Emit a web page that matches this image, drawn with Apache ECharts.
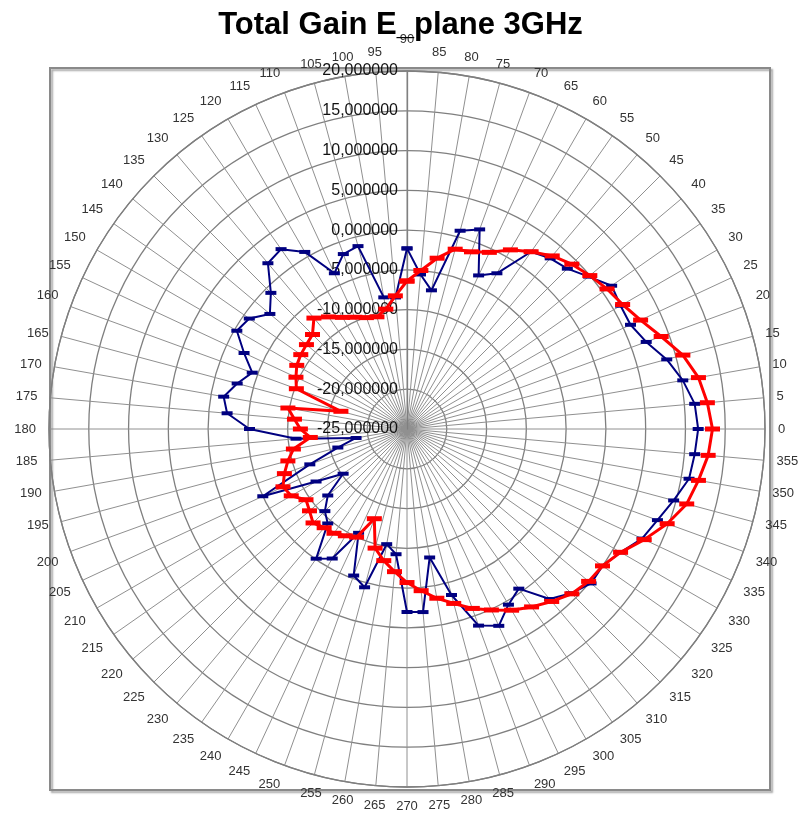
<!DOCTYPE html>
<html>
<head>
<meta charset="utf-8">
<script src="https://cdn.jsdelivr.net/npm/echarts@6/dist/echarts.min.js"></script>
<style>
html,body{margin:0;padding:0;background:#fff;}
#chart{width:801px;height:819px;}
</style>
</head>
<body>
<div id="chart"></div>
<script>
// Angles (degrees) of the measured directions
const angles = [0,5,10,15,20,25,30,35,40,45,50,55,60,65,70,75,80,85,90,95,100,105,110,115,120,125,130,135,140,145,150,155,160,165,170,175,180,185,190,195,200,205,210,215,220,225,230,235,240,245,250,255,260,265,270,275,280,285,290,295,300,305,310,315,320,325,330,335,340,345,350,355];

// Blue (navy) series, dB
const blueGain = [11.6,11.3,10.2,8.8,7.0,6.0,6.0,6.4,4.8,3.5,3.0,2.2,-2.4,-3.7,1.7,0.8,-7.3,-5.5,-2.3,-8.4,-8.2,-1.2,-1.6,-3.4,0.7,2.6,2.2,-0.8,-2.5,-0.8,-0.3,-2.4,-4.3,-2.9,-1.6,-2.3,-5.2,-11.0,-18.5,-16.0,-12.0,-5.0,-11.8,-15.2,-12.0,-10.4,-9.5,-5.1,-6.2,-10.6,-5.4,-4.4,-10.3,-9.2,-2.0,-1.9,-8.6,-3.4,1.3,2.3,0.5,-0.5,2.9,4.2,5.2,5.0,6.0,7.6,8.5,9.7,11.0,11.3];

// Red series, dB
const redGain = [13.4,12.9,12.2,10.9,9.0,7.4,6.3,5.7,5.0,4.3,3.4,2.2,1.0,-0.5,-1.3,-1.6,-3.2,-5.0,-6.4,-8.2,-9.7,-10.4,-10.1,-9.5,-8.8,-7.8,-6.8,-8.2,-8.5,-8.7,-9.0,-9.6,-10.2,-16.4,-9.8,-10.8,-11.6,-12.8,-10.5,-9.5,-8.6,-7.8,-8.2,-9.5,-9.0,-8.3,-8.8,-9.0,-9.5,-10.0,-13.0,-9.5,-8.2,-7.0,-5.7,-4.6,-3.4,-2.3,-1.0,0.1,1.3,2.3,3.3,4.3,4.8,5.0,6.0,7.9,9.8,11.4,12.2,13.0];

// Radial tick range (dB)
const radialMin = -25, radialMax = 20, radialStep = 5;

// Build closed loops starting at 90 deg (axis runs 90..450)
function buildLoop(values) {
  const n = angles.length;
  const start = angles.indexOf(90);
  const out = [];
  for (let k = 0; k <= n; k++) {
    const i = (start + k) % n;
    let a = angles[i];
    if (a < 90) a += 360;
    if (k === n) a = 450;
    out.push([values[i], a]);
  }
  return out;
}

const chart = echarts.init(document.getElementById('chart'));
const font = 'Liberation Sans, Arial, sans-serif';
chart.setOption({
  backgroundColor: '#ffffff',
  animation: false,
  title: {
    text: 'Total Gain E_plane 3GHz',
    left: 'center',
    top: 5,
    textStyle: {fontSize: 31, fontWeight: 'bold', color: '#000', fontFamily: font}
  },
  graphic: [{
    type: 'rect',
    z: -10,
    shape: {x: 50, y: 68, width: 720, height: 722},
    style: {fill: 'none', stroke: '#8a8a8a', lineWidth: 2, shadowColor: 'rgba(0,0,0,0.35)', shadowOffsetX: 2, shadowOffsetY: 2, shadowBlur: 2}
  }],
  polar: {center: [407, 429], radius: 358},
  angleAxis: {
    type: 'value',
    min: 90,
    max: 450,
    interval: 5,
    startAngle: 90,
    clockwise: false,
    axisLine: {show: true, lineStyle: {color: '#7f7f7f', width: 1.3}},
    axisTick: {show: false},
    splitLine: {show: true, lineStyle: {color: '#909090', width: 1}},
    axisLabel: {
      margin: 13,
      color: '#333',
      fontSize: 13,
      fontFamily: font,
      formatter: function (v) { return v >= 450 ? '' : (v === 90 ? '{top|90}' : String(v % 360)); },
      rich: {top: {fontSize: 13, color: '#333', fontFamily: font, padding: [0, 0, 12, 0]}}
    }
  },
  radiusAxis: {
    type: 'value',
    min: radialMin,
    max: radialMax,
    interval: radialStep,
    axisLine: {show: true, lineStyle: {color: '#808080', width: 1.3}},
    axisTick: {show: false},
    splitLine: {show: true, lineStyle: {color: '#7f7f7f', width: 1.3}},
    axisLabel: {
      color: '#111',
      fontSize: 16,
      fontFamily: font,
      margin: 9,
      formatter: function (v) { return v.toFixed(6).replace('.', ','); }
    }
  },
  series: [{
    name: 'blue',
    type: 'line',
    coordinateSystem: 'polar',
    data: buildLoop(blueGain),
    symbol: 'rect',
    symbolSize: [11, 4],
    lineStyle: {color: '#000080', width: 2},
    itemStyle: {color: '#000080'},
    z: 3
  }, {
    name: 'red',
    type: 'line',
    coordinateSystem: 'polar',
    data: buildLoop(redGain),
    symbol: 'rect',
    symbolSize: [15, 5],
    lineStyle: {color: '#ff0000', width: 3},
    itemStyle: {color: '#ff0000'},
    z: 4
  }]
});
</script>
</body>
</html>
